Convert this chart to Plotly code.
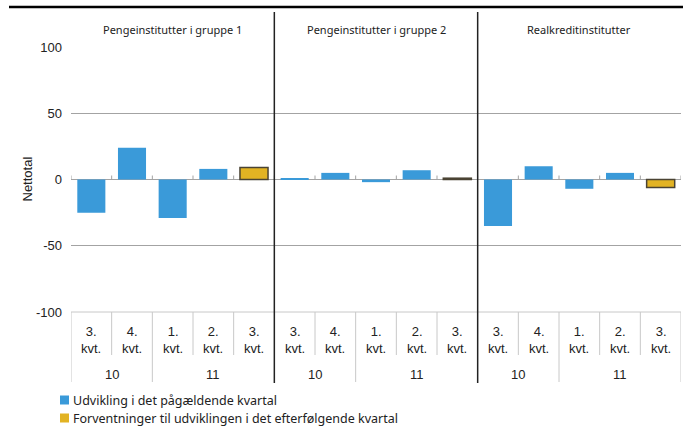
import plotly.graph_objects as go

panels = ["Pengeinstitutter i gruppe 1", "Pengeinstitutter i gruppe 2", "Realkreditinstitutter"]
quarters = ["3.<br>kvt.", "4.<br>kvt.", "1.<br>kvt.", "2.<br>kvt.", "3.<br>kvt."]
years = ["10", "10", "11", "11", "11"]

actual_grp1 = [-25, 24, -29, 8]
actual_grp2 = [1, 5, -2, 7]
actual_real = [-35, 10, -7, 5]
forecast = [9, 1, -6]  # one per panel, last quarter

series_actual = [actual_grp1, actual_grp2, actual_real]
yticks = [100, 50, 0, -50, -100]

n_per = len(quarters)
n_tot = n_per * len(panels)

xa, ya, xf, yf = [], [], [], []
for p, vals in enumerate(series_actual):
    for i, v in enumerate(vals):
        xa.append(p * n_per + i)
        ya.append(v)
    xf.append(p * n_per + n_per - 1)
    yf.append(forecast[p])

BLUE = "#3a9ad9"
YEL = "#e2b323"
GRID = "#a3a3a3"
TAB = "#c8c8c8"
TXT = "#222222"
NAME_A = "Udvikling i det pågældende kvartal"
NAME_F = "Forventninger til udviklingen i det efterfølgende kvartal"

fig = go.Figure()
fig.add_trace(go.Bar(x=xa, y=ya, width=0.69, marker=dict(color=BLUE, line=dict(width=0)),
                     name=NAME_A, showlegend=False))
fig.add_trace(go.Bar(x=xf, y=yf, width=0.69, marker=dict(color=YEL, line=dict(color="#4a4333", width=1.5)),
                     name=NAME_F, showlegend=False))

L, R, T, B = 71, 2, 47, 116
W, H = 683, 428
pw = W - L - R
ph = H - T - B

def py(pix):
    return (H - B - pix) / ph

def px(pix):
    return (pix - L) / pw

shapes = []
shapes.append(dict(type="line", xref="paper", yref="paper", x0=px(9), x1=px(683), y0=py(7), y1=py(7),
                   line=dict(color="black", width=2.5)))
shapes.append(dict(type="line", xref="paper", yref="paper", x0=0, x1=1, y0=0, y1=0,
                   line=dict(color=TAB, width=1)))
for k in range(n_tot + 1):
    shapes.append(dict(type="line", xref="x", yref="y", x0=k - 0.5, x1=k - 0.5, y0=0, y1=3,
                       line=dict(color=GRID, width=1)))
row1_bot = py(355)
row2_bot = py(382)
for k in range(n_tot + 1):
    xb = k - 0.5
    if k % n_per == 0 and 0 < k < n_tot:
        continue
    local = k % n_per
    full = (k == n_tot) or (local == 0) or (years[local] != years[local - 1])
    shapes.append(dict(type="line", xref="x", yref="paper", x0=xb, x1=xb, y0=0,
                       y1=row2_bot if full else row1_bot, line=dict(color=TAB, width=1)))
for p in range(1, len(panels)):
    xb = p * n_per - 0.5
    shapes.append(dict(type="line", xref="x", yref="paper", x0=xb, x1=xb, y0=py(383), y1=py(12),
                       line=dict(color="#222222", width=1.5)))

annotations = []
for p, name in enumerate(panels):
    annotations.append(dict(x=p * n_per + (n_per - 1) / 2, y=py(29), xref="x", yref="paper",
                            text=name, showarrow=False, font=dict(family="Noto Sans", size=11, color=TXT),
                            xanchor="center", yanchor="middle"))
    for i, q in enumerate(quarters):
        annotations.append(dict(x=p * n_per + i, y=py(340), xref="x", yref="paper", text=q,
                                showarrow=False, font=dict(family="Liberation Sans", size=13, color=TXT),
                                xanchor="center", yanchor="middle"))
    start = 0
    for i in range(1, n_per + 1):
        if i == n_per or years[i] != years[start]:
            annotations.append(dict(x=p * n_per + (start + i - 1) / 2, y=py(374), xref="x", yref="paper",
                                    text=years[start], showarrow=False,
                                    font=dict(family="Liberation Sans", size=13, color=TXT),
                                    xanchor="center", yanchor="middle"))
            start = i

annotations.append(dict(x=px(27), y=0.5, xref="paper", yref="paper", text="Nettotal", textangle=-90,
                        showarrow=False, font=dict(family="Liberation Sans", size=13, color=TXT),
                        xanchor="center", yanchor="middle"))

# legend (drawn manually)
for name, col, cy in [(NAME_A, BLUE, 400), (NAME_F, YEL, 418)]:
    shapes.append(dict(type="rect", xref="paper", yref="paper", x0=px(60), x1=px(69),
                       y0=py(cy - 4.5), y1=py(cy + 4.5), fillcolor=col, line=dict(width=0)))
    annotations.append(dict(x=px(71), y=py(cy), xref="paper", yref="paper", text=name, showarrow=False,
                            xanchor="left", yanchor="middle",
                            font=dict(family="Noto Sans", size=12.5, color=TXT)))

fig.update_layout(
    width=W, height=H,
    margin=dict(l=L, r=R, t=T, b=B, autoexpand=False),
    paper_bgcolor="white", plot_bgcolor="white",
    barmode="overlay",
    showlegend=False,
    xaxis=dict(range=[-0.5, n_tot - 0.5], showticklabels=False, showgrid=False, zeroline=False,
               showline=False, fixedrange=True),
    yaxis=dict(range=[-100, 100], tickvals=yticks, ticktext=[str(v) for v in yticks],
               showgrid=True, gridcolor=GRID, gridwidth=1, zeroline=True, zerolinecolor=GRID,
               zerolinewidth=1, showline=False, ticks="", ticklabelstandoff=8,
               tickfont=dict(family="Liberation Sans", size=13, color=TXT)),
    shapes=shapes,
    annotations=annotations,
)

fig.write_html("out.html", config={"displayModeBar": False},
               post_script="document.body.style.margin='0';document.body.style.overflow='hidden';")
